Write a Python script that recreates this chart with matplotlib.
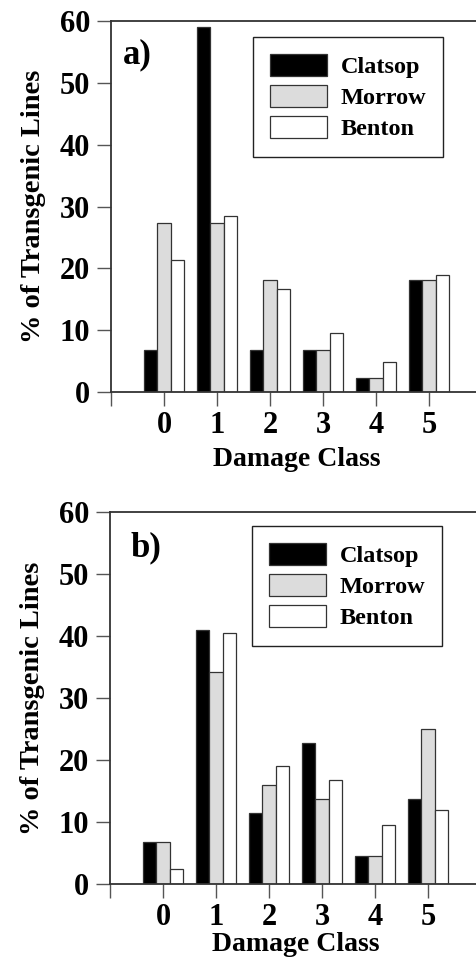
import matplotlib
matplotlib.use("Agg")
import matplotlib.pyplot as plt
import numpy as np

plt.rcParams['font.family'] = ['Liberation Serif', 'DejaVu Serif']
plt.rcParams['font.weight'] = 'bold'

classes = [0, 1, 2, 3, 4, 5]
series_names = ["Clatsop", "Morrow", "Benton"]
colors = ["#000000", "#dcdcdc", "#ffffff"]

a_clatsop = [6.8, 59.1, 6.8, 6.8, 2.3, 18.2]
a_morrow = [27.3, 27.3, 18.2, 6.8, 2.3, 18.2]
a_benton = [21.4, 28.5, 16.7, 9.5, 4.8, 19.0]

b_clatsop = [6.8, 41.0, 11.4, 22.7, 4.5, 13.6]
b_morrow = [6.8, 34.1, 15.9, 13.6, 4.5, 25.0]
b_benton = [2.4, 40.5, 19.0, 16.7, 9.5, 11.9]

panels = [
    ("a)", [a_clatsop, a_morrow, a_benton]),
    ("b)", [b_clatsop, b_morrow, b_benton]),
]

yticks = [0, 10, 20, 30, 40, 50, 60]

fig = plt.figure(figsize=(4.76, 9.59), dpi=100)
axes_pos = [
    [0.2332, 0.5912, 0.7794, 0.3868],
    [0.2311, 0.0785, 0.7794, 0.3876],
]
legend_tops = [0.957, 0.963]
label_pos = [(0.032, 0.908), (0.054, 0.903)]
xlabel_pads = [5, 0]

axis_color = "#333333"
width = 0.25
x = np.array(classes, dtype=float)

for i, (lab, data) in enumerate(panels):
    ax = fig.add_axes(axes_pos[i])
    handles = []
    for j, (name, vals) in enumerate(zip(series_names, data)):
        h = ax.bar(x + (j - 1) * width, vals, width=width, color=colors[j],
                   edgecolor="#333333", linewidth=0.9, label=name, zorder=2)
        handles.append(h)
    ax.set_xlim(-1, 6)
    ax.set_ylim(0, 60)
    ax.set_yticks(yticks)
    ax.set_xticks([-1] + classes)
    ax.set_xticklabels([""] + [str(c) for c in classes])
    ax.tick_params(axis='both', direction='out', length=10, width=1.0,
                   color="#555555", labelsize=22, pad=5)
    ax.tick_params(axis='x', pad=4)
    for s in ['left', 'bottom', 'top']:
        ax.spines[s].set_color(axis_color)
        ax.spines[s].set_linewidth(1.3)
    ax.spines['right'].set_visible(False)
    ax.set_ylabel("% of Transgenic Lines", fontsize=20.5, fontweight='bold', labelpad=10)
    ax.set_xlabel("Damage Class", fontsize=20, fontweight='bold', labelpad=xlabel_pads[i])
    for t in ax.get_xticklabels() + ax.get_yticklabels():
        t.set_fontweight('bold')
    ax.text(label_pos[i][0], label_pos[i][1], lab, transform=ax.transAxes,
            fontsize=25, fontweight='bold', ha='left', va='center')
    leg = ax.legend(handles=handles, loc='upper left',
                    bbox_to_anchor=(0.383, legend_tops[i]), borderaxespad=0,
                    fancybox=False, framealpha=1, edgecolor="#222222",
                    prop={'family': 'Liberation Serif', 'weight': 'bold', 'size': 17.5},
                    handlelength=2.35, handleheight=1.0, labelspacing=0.28,
                    handletextpad=0.55, borderpad=0.7)
    leg.get_frame().set_linewidth(1.0)

fig.savefig("out.png", dpi=100)
